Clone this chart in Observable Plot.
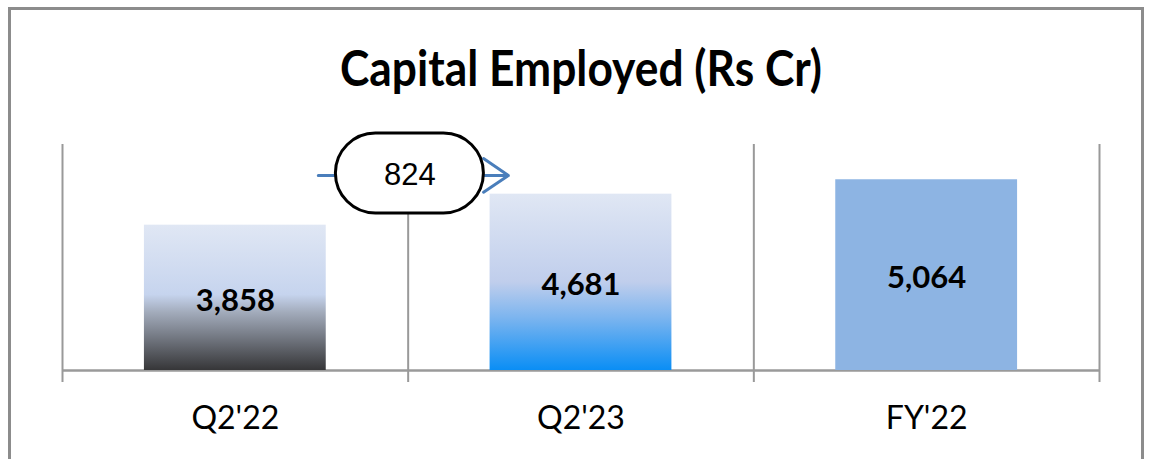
<!DOCTYPE html>
<html><head><meta charset="utf-8">
<script src="https://cdn.jsdelivr.net/npm/d3@7"></script>
<script src="https://cdn.jsdelivr.net/npm/@observablehq/plot@0.6"></script>
<style>
html,body{margin:0;padding:0;background:#fff;}
#wrap{position:relative;width:1154px;height:459px;overflow:hidden;}
#border{position:absolute;left:8px;top:7px;width:1130px;height:480px;border:3px solid #8c8c8c;}
#chart{position:absolute;left:0;top:0;}
</style></head><body>
<div id="wrap"><div id="border"></div><div id="chart"></div></div>
<script>
const title = "Capital Employed (Rs Cr)";
const categories = ["Q2'22", "Q2'23", "FY'22"];
const values = [3858, 4681, 5064];
const valueLabels = ["3,858", "4,681", "5,064"];
const yDomain = [0, 6000];
const changeLabel = "824";
const changeArrow = {from: 0.74, to: 1.29, value: 5180};
const changeBubble = {at: 1.005, value: 5230};

const barFills = ["url(#gDark)", "url(#gBlue)", "#8db4e3"];
const gradients = {
  gDark: [[0, "#e0e7f4"], [0.48, "#c6d4ee"], [0.6, "#a3acbc"], [1, "#363638"]],
  gBlue: [[0, "#e0e7f4"], [0.5, "#c0ceec"], [0.7, "#7db5ef"], [1, "#0a8ef5"]]
};

const rows = categories.map((c, i) => ({i, category: c, value: values[i], label: valueLabels[i]}));
const boundaries = d3.range(categories.length + 1);

function defs() {
  const d = d3.create("svg:defs");
  for (const [id, stops] of Object.entries(gradients)) {
    const g = d.append("linearGradient").attr("id", id).attr("x1", 0).attr("y1", 0).attr("x2", 0).attr("y2", 1);
    for (const [o, c] of stops) g.append("stop").attr("offset", o).attr("stop-color", c);
  }
  return d.node();
}

const svg = Plot.plot({
  width: 1154,
  height: 459,
  marginLeft: 62,
  marginRight: 55,
  marginTop: 144,
  marginBottom: 89,
  style: {fontFamily: "Lato", background: "transparent", overflow: "visible", color: "#000"},
  x: {type: "linear", domain: [0, categories.length], axis: null},
  y: {domain: yDomain, axis: null},
  marks: [
    defs,
    Plot.ruleX(boundaries, {x: d => d, y1: yDomain[1], y2: yDomain[0], insetTop: 0, insetBottom: -12, stroke: "#999", strokeWidth: 2, strokeOpacity: 1}),
    Plot.ruleY([0], {stroke: "#9a9a9a", strokeWidth: 2.5, strokeOpacity: 1}),
    ...rows.map(r => Plot.rect([r], {x1: d => d.i + 0.237, x2: d => d.i + 0.763, y1: 0, y2: "value", fill: barFills[r.i]})),
    Plot.text(rows, {x: d => d.i + 0.5, y: d => d.value / 2, text: "label", fontWeight: "bold", fontSize: 31, dy: 3, fill: "#000"}),
    Plot.text(rows, {x: d => d.i + 0.5, y: 0, text: "category", fontSize: 32, dy: 48, fill: "#000"}),
    Plot.arrow([changeArrow], {x1: "from", x2: "to", y1: "value", y2: "value", stroke: "#4a7ebb", strokeWidth: 3, headLength: 15, headAngle: 68}),
    Plot.rect([changeBubble], {x1: "at", x2: "at", y1: "value", y2: "value", insetLeft: -74, insetRight: -74, insetTop: -40, insetBottom: -40, rx: 40, ry: 40, fill: "#fff", stroke: "#000", strokeWidth: 3}),
    Plot.text([changeBubble], {x: "at", y: "value", text: () => changeLabel, fontFamily: "Liberation Sans", fontSize: 31, dy: 2, fill: "#000"}),
    Plot.text([title], {frameAnchor: "top", lineAnchor: "middle", dy: -74, text: d => d, fontSize: 49, fontWeight: "bold", fill: "#000"})
  ]
});
document.getElementById("chart").appendChild(svg);
for (const t of svg.querySelectorAll("text")) {
  if (t.textContent === title) {
    t.setAttribute("textLength", 482);
    t.setAttribute("lengthAdjust", "spacingAndGlyphs");
  }
}
</script>
</body></html>
